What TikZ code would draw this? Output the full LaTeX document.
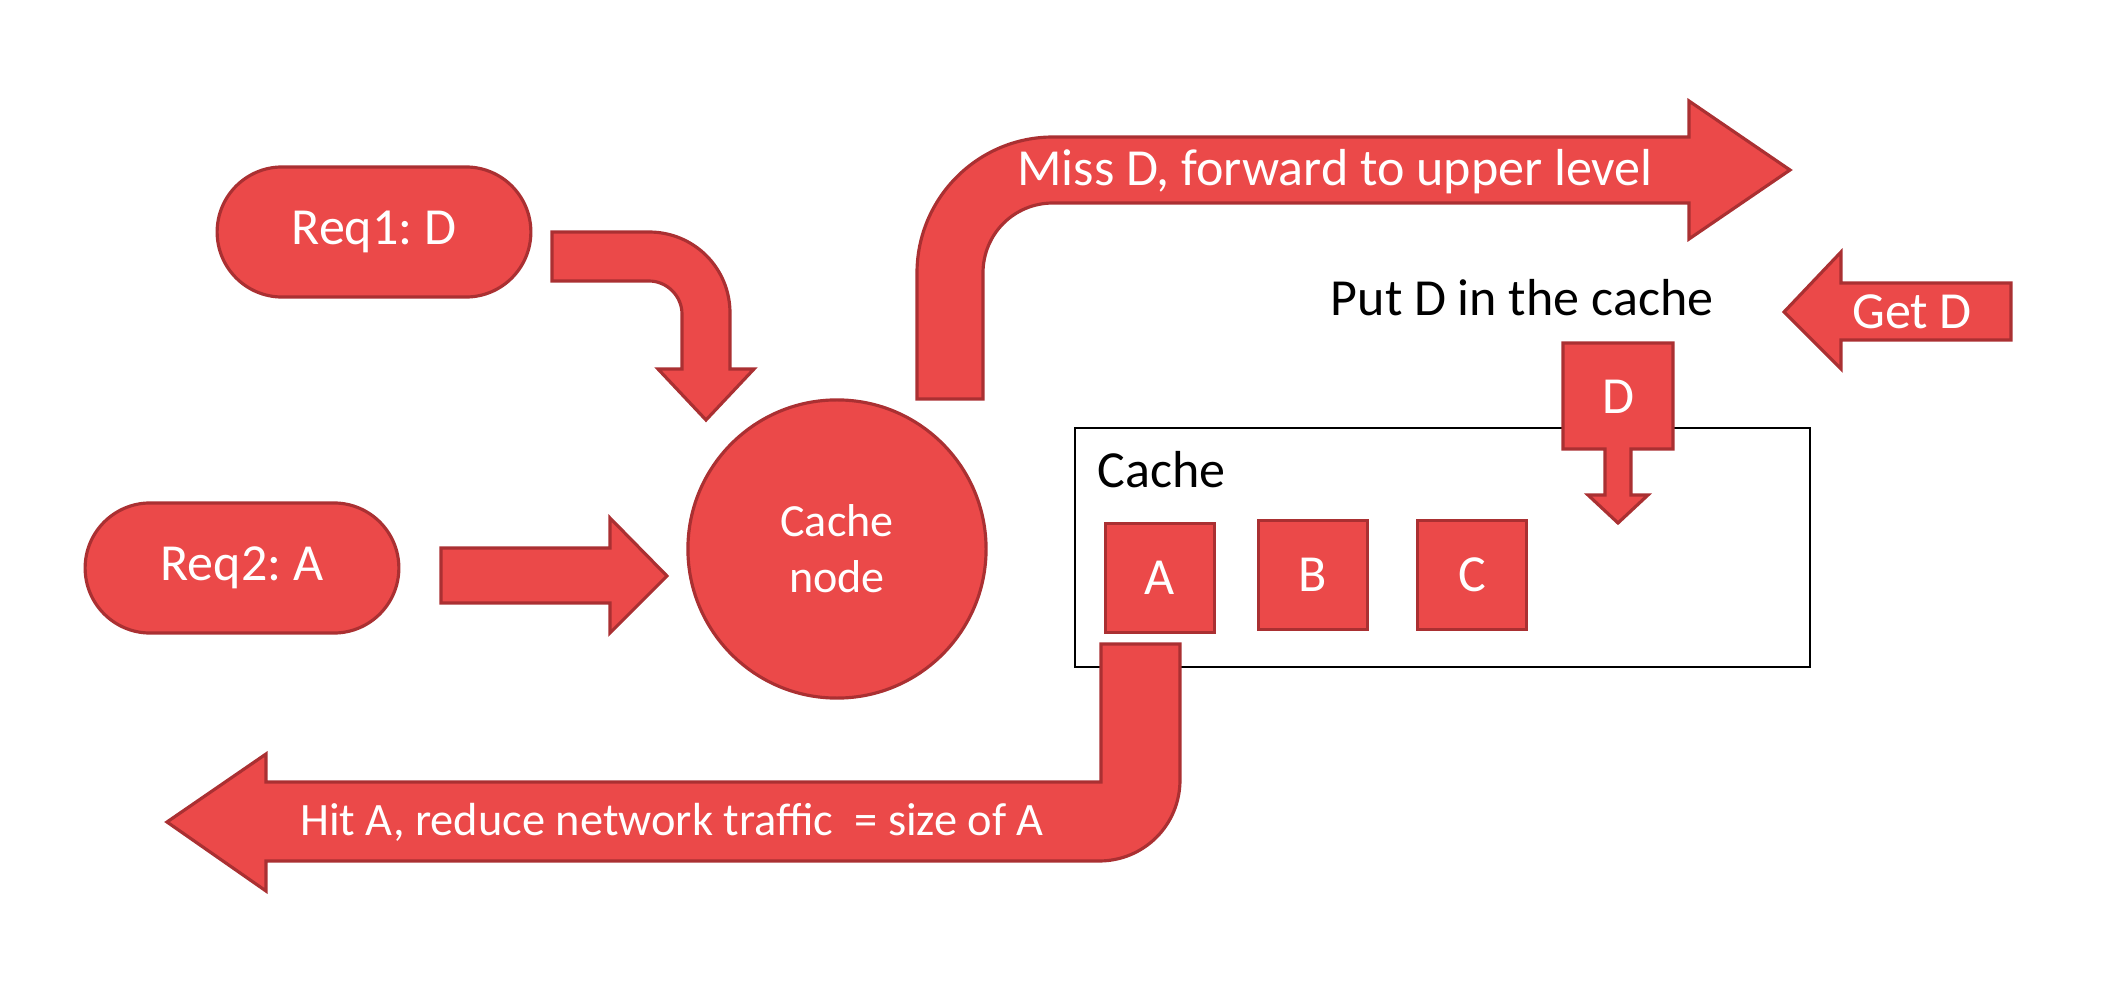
\documentclass[tikz,border=0pt]{standalone}
\usepackage{fontspec}
\setmainfont{Carlito}
\usetikzlibrary{shapes,arrows,calc,positioning}
\definecolor{boxred}{RGB}{235,73,73}
\definecolor{edgered}{RGB}{170,48,50}
\frenchspacing

\begin{document}
\begin{tikzpicture}[x=0.01cm,y=-0.01cm,
  redshape/.style={fill=boxred,draw=edgered,line width=0.9pt},
  redtext/.style={text=white,font=\fontsize{14.8}{17}\selectfont,inner sep=0pt},
  blacktext/.style={text=black,font=\fontsize{14.8}{17}\selectfont,inner sep=0pt},
  pill/.style={rounded rectangle,redshape,minimum width=3.37cm,minimum height=1.3cm,text=white,font=\fontsize{14.8}{17}\selectfont},
  slot/.style={rectangle,redshape,minimum width=1.09cm,minimum height=1.09cm,text=white,font=\fontsize{14.8}{17}\selectfont}]
\useasboundingbox (0,0) rectangle (2126,997);

\node[pill] at (374,232) (req1) {Req1: D};
\node[pill] at (242,568) (req2) {Req2: A};
\node[circle,redshape,minimum size=2.98cm,text=white,align=center,font=\fontsize{13.1}{15.9}\selectfont] at (837,549) (cnode) {Cache\\node};

% Req1 -> cache node
\filldraw[redshape] (552,232) -- (649,232) .. controls (694,232) and (730,268) .. (730,313) -- (730,369) -- (754,369) -- (706,420) -- (658,369) -- (682,369) -- (682,314) .. controls (682,296) and (667,281) .. (649,281) -- (552,281) -- cycle;

% Req2 -> cache node
\filldraw[redshape] (441,548) -- (610,548) -- (610,518) -- (667,576) -- (610,633) -- (610,603) -- (441,603) -- cycle;

% miss, forward up
\filldraw[redshape] (917,399) -- (917,273) .. controls (917,198) and (978,137) .. (1053,137) -- (1689,137) -- (1689,101) -- (1790,170) -- (1689,239) -- (1689,203) -- (1053,203) .. controls (1014,203) and (983,234) .. (983,273) -- (983,399) -- cycle;
\node[redtext] at (1335,172) (miss) {Miss D, forward to upper level};

% get D from upper level
\filldraw[redshape] (2011,283) -- (1841,283) -- (1841,252) -- (1784,312) -- (1841,369) -- (1841,340) -- (2011,340) -- cycle;
\node[redtext] at (1912,312) (getd) {Get D};
\node[blacktext] at (1522,298) (put) {Put D in the cache};

% cache
\draw[black,line width=0.6pt] (1075,428) rectangle (1810,667);
\node[blacktext,anchor=west] at (1097,470) (cache) {Cache};
\node[slot] at (1160,578) (a) {A};
\node[slot] at (1313,575) (b) {B};
\node[slot] at (1472,575) (c) {C};

% D into the cache
\filldraw[redshape] (1563,343) -- (1673,343) -- (1673,449) -- (1631,449) -- (1631,495) -- (1648,495) -- (1618,523) -- (1588,495) -- (1605,495) -- (1605,449) -- (1563,449) -- cycle;
\node[redtext] at (1618,397) (d) {D};

% hit, back to the user
\filldraw[redshape] (1180,644) -- (1180,780) .. controls (1180,825) and (1144,861) .. (1099,861) -- (266,861) -- (266,891) -- (167,822) -- (266,754) -- (266,782) -- (1101,782) -- (1101,644) -- cycle;
\node[redtext,font=\fontsize{13.2}{15}\selectfont] at (672,822) (hit) {Hit A, reduce network traffic\ \ = size of A};
\end{tikzpicture}
\end{document}
